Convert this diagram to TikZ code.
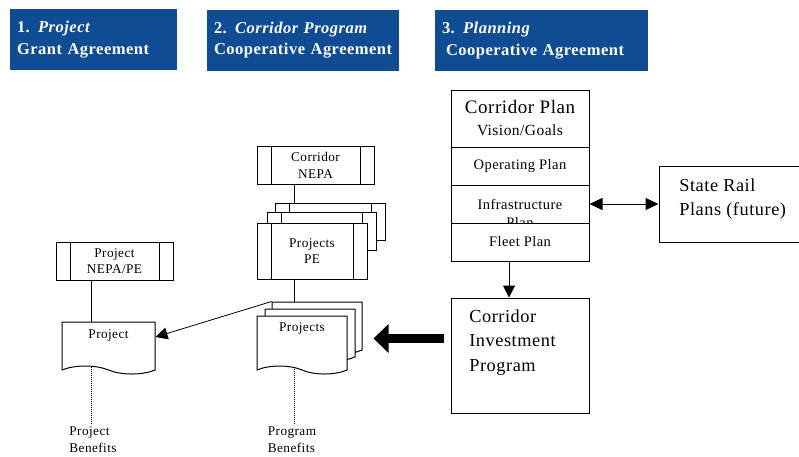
\documentclass[tikz,border=0pt]{standalone}
\usepackage{fontspec}
\setmainfont[LetterSpace=3]{Liberation Serif}
\usetikzlibrary{arrows, arrows.meta, positioning, calc, shapes.symbols}
\definecolor{hdrblue}{RGB}{15,76,148}
\tikzstyle{hdr} = [fill=hdrblue, text=white, align=left, inner xsep=7pt, minimum height=61pt, font=\fontsize{16.5}{21.6}\selectfont\bfseries]
\tikzstyle{sub} = [draw, fill=white, minimum width=117pt, minimum height=38pt, align=center, font=\fontsize{13.3}{16.5}\selectfont,
  path picture={\draw ([xshift=14pt]path picture bounding box.north west) -- ([xshift=14pt]path picture bounding box.south west)
    ([xshift=-14pt]path picture bounding box.north east) -- ([xshift=-14pt]path picture bounding box.south east);}]
\tikzstyle{doc} = [tape, draw, fill=white, tape bend top=none, tape bend bottom=out and in, tape bend height=8pt, inner sep=0pt]
\tikzstyle{doclabel} = [anchor=north, yshift=-4pt, font=\fontsize{13.3}{16.5}\selectfont]
\tikzstyle{plan} = [draw, fill=white, minimum width=138pt, minimum height=38pt, align=center, font=\fontsize{14.5}{18}\selectfont]
\tikzstyle{bigbox} = [draw, fill=white]
\tikzstyle{biglabel} = [anchor=north west, align=left, font=\fontsize{18.3}{24.5}\selectfont]
\tikzstyle{note} = [align=left, font=\fontsize{13.3}{17}\selectfont]
\tikzstyle{arrow} = [-{Triangle[length=12pt, width=12pt]}]
\tikzstyle{dblarrow} = [{Triangle[length=13pt, width=12pt]}-{Triangle[length=13pt, width=12pt]}]
\tikzstyle{fatarrow} = [line width=9pt, -{Triangle[length=15pt, width=28pt]}, shorten <=7pt, shorten >=11pt]
\tikzstyle{dots} = [densely dotted]

\begin{document}
\begin{tikzpicture}[x=1pt, y=-1pt, line width=1pt]
\useasboundingbox (0,0) rectangle (799,456);

  % agreement headers
  \node[hdr, text width=153pt] (hdrA) at (93.5,39.5) {1. \textit{Project}\\Grant Agreement};
  \node[hdr, text width=178pt] (hdrB) at (303,40) {2. \textit{Corridor Program}\\Cooperative Agreement};
  \node[hdr, text width=199pt] (hdrC) at (541.5,40.5) {3. \textit{Planning}\\\hspace*{4pt}Cooperative Agreement};

  % project column
  \node[sub] (pnepa) at (114.5,261) {Project\\NEPA/PE};
  \node[doc, minimum width=93pt, minimum height=52pt, label={[doclabel]north:Project}] (pdoc) at (108.5,344) {};
  \node[note] (pben) at (93,440) {Project\\Benefits};

  % corridor program column
  \node[sub] (cnepa) at (315.5,165.5) {Corridor\\NEPA};
  \node[sub, minimum width=110pt, minimum height=37pt] (ppeC) at (330,221.5) {};
  \node[sub, minimum width=109pt, minimum height=38pt] (ppeB) at (321.5,231) {};
  \node[sub, minimum width=110pt, minimum height=56pt] (ppeA) at (312,251) {Projects\\PE};
  \node[doc, minimum width=90pt, minimum height=52pt] (docsC) at (317,324) {};
  \node[doc, minimum width=90pt, minimum height=52pt] (docsB) at (310,331) {};
  \node[doc, minimum width=90pt, minimum height=58pt, label={[doclabel, yshift=1pt]north:Projects}] (docsA) at (302,341) {};
  \node[note] (prben) at (292,440) {Program\\Benefits};

  % planning column
  \node[plan, minimum height=57pt, font=\fontsize{19}{22}\selectfont] (cpVision) at (520,118.5) {Corridor Plan\\\fontsize{15.5}{22}\selectfont Vision/Goals};
  \node[plan] (cpOper) at (520,166) {Operating Plan};
  \node[plan, minimum height=56pt] (cpInfra) at (520,213) {Infrastructure\\Plan};
  \node[plan] (cpFleet) at (520,242) {Fleet Plan};
  \node[bigbox, minimum width=150pt, minimum height=76pt,
    label={[biglabel, xshift=17pt, yshift=-9pt]north west:State Rail\\Plans (future)}] (srail) at (734,204) {};
  \node[bigbox, minimum width=138pt, minimum height=115pt,
    label={[biglabel, xshift=15pt, yshift=-8pt]north west:Corridor\\Investment\\Program}] (cip) at (520,355.5) {};

  % connectors
  \draw ([xshift=-23.5pt]pnepa.south) -- ([xshift=-23.5pt]pnepa.south |- pdoc.north);
  \draw ([xshift=-21.5pt]cnepa.south) -- ([xshift=-21.5pt]cnepa.south |- ppeC.north);
  \draw ([xshift=-18pt]ppeA.south) -- ([xshift=-18pt]ppeA.south |- docsC.north);
  \draw[arrow, line width=0.8pt] (docsC.north west) -- ([yshift=7pt]pdoc.east);
  \draw[dots] ([xshift=-17.5pt]pdoc.south) -- ([xshift=-17.5pt]pdoc.south |- pben.north);
  \draw[dots] ([xshift=-8pt]docsA.south) -- ([xshift=-8pt]docsA.south |- prben.north);
  \draw[arrow] ([xshift=-11pt]cpFleet.south) -- ([xshift=-11pt]cpFleet.south |- cip.north);
  \draw[dblarrow] (srail.west -| cpInfra.east) -- (srail.west);
  \draw[fatarrow] ([yshift=17pt]cip.west) -- ([yshift=17pt]cip.west -| docsC.east);

\end{tikzpicture}
\end{document}
